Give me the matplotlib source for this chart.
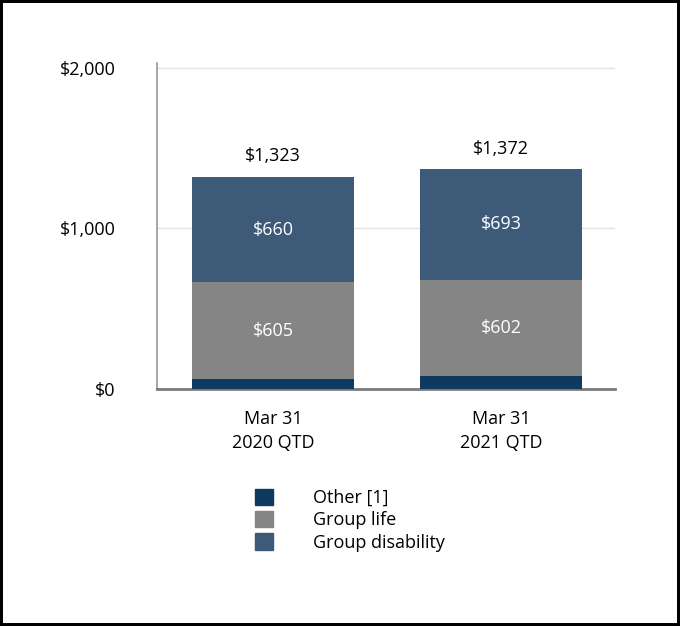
import matplotlib.pyplot as plt
from matplotlib.patches import Patch
from matplotlib.ticker import FuncFormatter

plt.rcParams['font.family'] = ['Open Sans', 'DejaVu Sans']

periods = ['Mar 31\n2020 QTD', 'Mar 31\n2021 QTD']
other = [58, 77]
group_life = [605, 602]
group_disability = [660, 693]
totals = [1323, 1372]

c_other = '#0f3a60'
c_life = '#858585'
c_dis = '#3d5a78'
fs = 13

fig = plt.figure(figsize=(6.8, 6.26), dpi=100, linewidth=3, edgecolor='black')
ax = fig.add_axes([0.231, 0.379, 0.673, 0.52])

x = range(len(periods))
w = 0.709
ax.bar(x, other, w, color=c_other, zorder=3)
ax.bar(x, group_life, w, bottom=other, color=c_life, zorder=3)
bottom2 = [o + g for o, g in zip(other, group_life)]
ax.bar(x, group_disability, w, bottom=bottom2, color=c_dis, zorder=3)

# segment labels
for i in x:
    ax.text(i, other[i] + group_life[i] / 2, f'${group_life[i]:,}', ha='center', va='center',
            color='white', fontsize=fs, zorder=4)
    ax.text(i, bottom2[i] + group_disability[i] / 2, f'${group_disability[i]:,}', ha='center',
            va='center', color='white', fontsize=fs, zorder=4)
    ax.text(i, totals[i] + 70, f'${totals[i]:,}', ha='center', va='bottom', color='black',
            fontsize=fs, zorder=4)

ax.set_xlim(-0.508, 1.497)
ax.set_ylim(0, 2030)
ax.set_yticks([0, 1000, 2000])
ax.yaxis.set_major_formatter(FuncFormatter(lambda v, p: f'${v:,.0f}'))
ax.set_xticks(list(x))
ax.set_xticklabels(periods, fontsize=fs, linespacing=1.45)
ax.tick_params(axis='y', length=0, pad=30, labelsize=fs)
ax.tick_params(axis='x', length=0, pad=15)
ax.grid(axis='y', color='#e3e3e3', linewidth=1, zorder=0)

ax.spines['top'].set_visible(False)
ax.spines['right'].set_visible(False)
ax.spines['left'].set_color('#9a9a9a')
ax.spines['left'].set_linewidth(1.2)
ax.spines['bottom'].set_color('#7a7a7a')
ax.spines['bottom'].set_linewidth(2)

handles = [Patch(color=c_other), Patch(color=c_life), Patch(color=c_dis)]
labels = ['Other [1]', 'Group life', 'Group disability']
fig.legend(handles, labels, loc='upper left', bbox_to_anchor=(0.375, 0.219),
           frameon=False, fontsize=fs, handlelength=1.0, handleheight=1.0,
           handletextpad=2.2, labelspacing=0.22, borderpad=0, borderaxespad=0)

fig.savefig('out.png')
